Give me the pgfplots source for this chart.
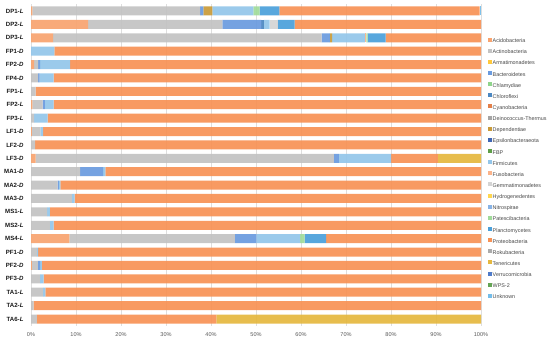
\documentclass[border=0pt]{standalone}
\usepackage{fontspec}
\setmainfont{Liberation Sans}
\usepackage{pgfplots}
\usepackage{pgfplotstable}
\pgfplotsset{compat=1.18}
\definecolor{cAci}{HTML}{F8A470}
\definecolor{cAct}{HTML}{C3C3C3}
\definecolor{cArm}{HTML}{FFC93C}
\definecolor{cBac}{HTML}{6A9BDF}
\definecolor{cChla}{HTML}{8FD48C}
\definecolor{cChlo}{HTML}{4C88C2}
\definecolor{cCyan}{HTML}{E3804A}
\definecolor{cDein}{HTML}{A5A5A5}
\definecolor{cDep}{HTML}{C99B3A}
\definecolor{cEps}{HTML}{3F66B4}
\definecolor{cFBP}{HTML}{5E9E48}
\definecolor{cFirm}{HTML}{93C6EA}
\definecolor{cFuso}{HTML}{FBB38A}
\definecolor{cGem}{HTML}{D4D4D4}
\definecolor{cHyd}{HTML}{FFD74F}
\definecolor{cNit}{HTML}{88B3E6}
\definecolor{cPat}{HTML}{A0DB9A}
\definecolor{cPlan}{HTML}{4BA0DA}
\definecolor{cProt}{HTML}{F79256}
\definecolor{cRok}{HTML}{ABABAB}
\definecolor{cTen}{HTML}{E5B83F}
\definecolor{cVer}{HTML}{4F7BC9}
\definecolor{cWPS}{HTML}{64A455}
\definecolor{cUnk}{HTML}{74BDEA}
\newcommand{\lab}[2]{\textbf{#1-\textit{#2}}}
\pgfplotstableread{
idx Aci Act Arm Bac Chla Chlo Cyan Dein Dep Eps FBP Firm Fuso Gem Hyd Nit Pat Plan Prot Rok Ten Ver WPS Unk
0  0.3 37.3 0 0.7 0 0   0 0 2.0 0 0 9.1  0   0   0 0 1.4 4.4 44.5 0 0   0 0 0.3
1  12.7 29.8 0 8.7 0 0.5 0 0 0  0 0 1.3  0   1.8 0 0 0   3.8 41.4 0 0   0 0 0
2  4.9 59.7 0 1.8 0 0   0 0 0.5 0 0 7.3  0.3 0   0 0 0.3 4.0 21.2 0 0   0 0 0
3  0   0    0 0   0 0   0 0 0   0 0 5.2  0   0   0 0 0   0   94.8 0 0   0 0 0
4  0.7 0.9  0 0.4 0 0   0 0 0   0 0 6.7  0   0   0 0 0   0   91.3 0 0   0 0 0
5  0   1.6  0 0.3 0 0   0 0 0   0 0 3.1  0   0   0 0 0   0   95.0 0 0   0 0 0
6  0   1.0  0 0   0 0   0 0 0   0 0 0    0   0   0 0 0   0   99.0 0 0   0 0 0
7  0.3 2.3  0 0.5 0 0   0 0 0   0 0 1.9  0   0   0 0 0   0   95.0 0 0   0 0 0
8  0   0.7  0 0   0 0   0 0 0   0 0 3.0  0   0   0 0 0   0   96.3 0 0   0 0 0
9  0.2 1.9  0 0   0 0   0 0 0   0 0 0.6  0   0   0 0 0   0   97.3 0 0   0 0 0
10 0   0.9  0 0   0 0   0 0 0   0 0 0    0   0   0 0 0   0   99.1 0 0   0 0 0
11 1.0 66.3 0 1.1 0 0   0 0 0   0 0 11.6 0   0   0 0 0   0   10.4 0 9.6 0 0 0
12 0   10.9 0 5.1 0 0   0 0 0   0 0 0.5  0   0   0 0 0   0   83.5 0 0   0 0 0
13 0   5.9  0 0.3 0 0   0 0 0   0 0 0.3  0   0   0 0 0   0   93.5 0 0   0 0 0
14 0   9.1  0 0   0 0   0 0 0   0 0 0.6  0   0   0 0 0   0   90.3 0 0   0 0 0
15 0   3.6  0 0   0 0   0 0 0   0 0 0.6  0   0   0 0 0   0   95.8 0 0   0 0 0
16 0   4.2  0 0   0 0   0 0 0   0 0 0.8  0   0   0 0 0   0   95.0 0 0   0 0 0
17 8.5 36.8 0 4.8 0 0   0 0 0   0 0 9.7  0   0   0 0 1.0 4.8 34.4 0 0   0 0 0
18 0   1.3  0 0   0 0   0 0 0   0 0 0.3  0   0   0 0 0   0   98.4 0 0   0 0 0
19 0.2 1.3  0 0.5 0 0   0 0 0   0 0 0.4  0   0   0 0 0   0   97.6 0 0   0 0 0
20 0   2.0  0 0   0 0   0 0 0   0 0 0.8  0   0   0 0 0   0   97.2 0 0   0 0 0
21 0   2.7  0 0   0 0   0 0 0   0 0 0.5  0   0   0 0 0   0   96.8 0 0   0 0 0
22 0   0.6  0 0   0 0   0 0 0   0 0 0    0   0   0 0 0   0   99.4 0 0   0 0 0
23 0   1.3  0 0   0 0   0 0 0   0 0 0    0   0   0 0 0   0   39.9 0 58.8 0 0 0
}\datatable
\begin{document}
\begin{tikzpicture}
\path[use as bounding box] (0,0) rectangle (550bp,342bp);
\begin{axis}[
  at={(31bp,16.3bp)}, anchor=south west,
  scale only axis, width=450bp, height=321.4bp,
  xbar stacked, bar width=9bp,
  y dir=reverse,
  xmin=0, xmax=100, ymin=-0.5, ymax=23.5,
  xtick={0,10,...,100}, ytick={0,...,23},
  yticklabels={{\lab{DP1}{L}},{\lab{DP2}{L}},{\lab{DP3}{L}},{\lab{FP1}{D}},{\lab{FP2}{D}},{\lab{FP4}{D}},{\lab{FP1}{L}},{\lab{FP2}{L}},{\lab{FP3}{L}},{\lab{LF1}{D}},{\lab{LF2}{D}},{\lab{LF3}{D}},{\lab{MA1}{D}},{\lab{MA2}{D}},{\lab{MA3}{D}},{\lab{MS1}{L}},{\lab{MS2}{L}},{\lab{MS4}{L}},{\lab{PF1}{D}},{\lab{PF2}{D}},{\lab{PF3}{D}},{\lab{TA1}{L}},{\lab{TA2}{L}},{\lab{TA6}{L}}},
  /pgf/number format/assume math mode=true,
  xticklabel={\pgfmathprintnumber{\tick}\%},
  xticklabel style={font=\fontsize{5.6}{6}\selectfont, text=black!65, yshift=-3.5bp},
  yticklabel style={font=\fontsize{6.1}{7}\selectfont, text=black!90, xshift=-4bp},
  xmajorgrids, major grid style={draw=black!13, line width=0.5pt},
  axis line style={draw=none},
  major tick length=0pt,
  every axis plot/.append style={draw=none, fill opacity=0.93},
  legend image code/.code={\fill[#1,draw=none,fill opacity=1] (0bp,-0.2bp) rectangle (4bp,3.8bp);},
  legend style={at={(1.0156,0.897)}, anchor=north west, draw=none, fill=none,
    font=\fontsize{5.4}{6}\selectfont, text=black!72, inner sep=0pt, row sep=4.54bp,
    nodes={inner sep=0.5bp, text height=3.6bp, text depth=1bp}},
  legend cell align=left,
]
\addplot[fill=cAci] table[x=Aci,y=idx]{\datatable};
\addplot[fill=cAct] table[x=Act,y=idx]{\datatable};
\addplot[fill=cArm] table[x=Arm,y=idx]{\datatable};
\addplot[fill=cBac] table[x=Bac,y=idx]{\datatable};
\addplot[fill=cChla] table[x=Chla,y=idx]{\datatable};
\addplot[fill=cChlo] table[x=Chlo,y=idx]{\datatable};
\addplot[fill=cCyan] table[x=Cyan,y=idx]{\datatable};
\addplot[fill=cDein] table[x=Dein,y=idx]{\datatable};
\addplot[fill=cDep] table[x=Dep,y=idx]{\datatable};
\addplot[fill=cEps] table[x=Eps,y=idx]{\datatable};
\addplot[fill=cFBP] table[x=FBP,y=idx]{\datatable};
\addplot[fill=cFirm] table[x=Firm,y=idx]{\datatable};
\addplot[fill=cFuso] table[x=Fuso,y=idx]{\datatable};
\addplot[fill=cGem] table[x=Gem,y=idx]{\datatable};
\addplot[fill=cHyd] table[x=Hyd,y=idx]{\datatable};
\addplot[fill=cNit] table[x=Nit,y=idx]{\datatable};
\addplot[fill=cPat] table[x=Pat,y=idx]{\datatable};
\addplot[fill=cPlan] table[x=Plan,y=idx]{\datatable};
\addplot[fill=cProt] table[x=Prot,y=idx]{\datatable};
\addplot[fill=cRok] table[x=Rok,y=idx]{\datatable};
\addplot[fill=cTen] table[x=Ten,y=idx]{\datatable};
\addplot[fill=cVer] table[x=Ver,y=idx]{\datatable};
\addplot[fill=cWPS] table[x=WPS,y=idx]{\datatable};
\addplot[fill=cUnk] table[x=Unk,y=idx]{\datatable};
\legend{Acidobacteria,Actinobacteria,Armatimonadetes,Bacteroidetes,Chlamydiae,Chloroflexi,Cyanobacteria,Deinococcus-Thermus,Dependentiae,Epsilonbacteraeota,FBP,Firmicutes,Fusobacteria,Gemmatimonadetes,Hydrogenedentes,Nitrospirae,Patescibacteria,Planctomycetes,Proteobacteria,Rokubacteria,Tenericutes,Verrucomicrobia,WPS-2,Unknown}
\end{axis}
\end{tikzpicture}
\end{document}
